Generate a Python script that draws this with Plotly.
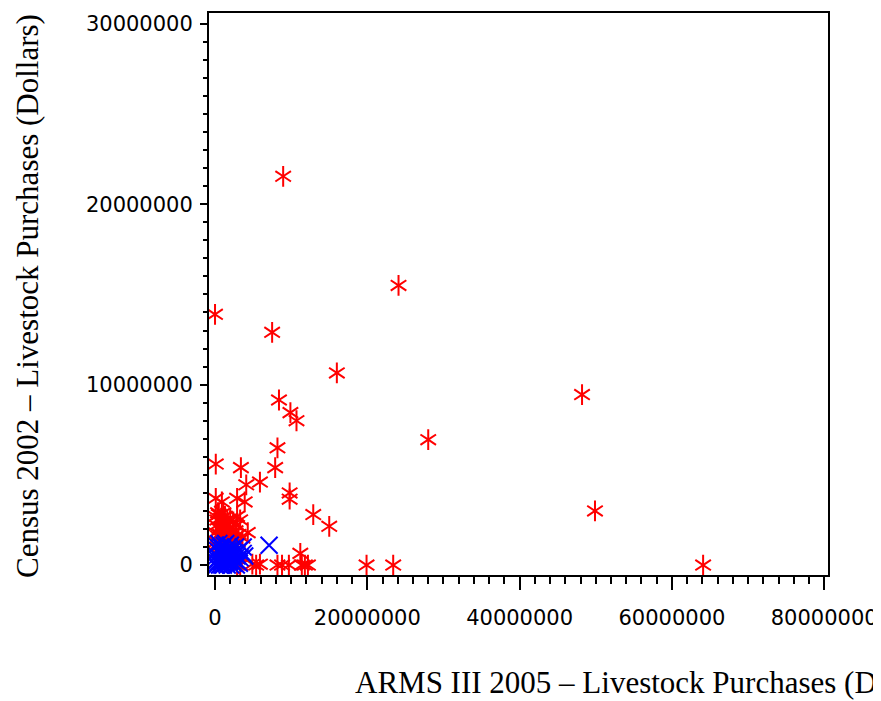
import plotly.graph_objects as go

# values, in millions of dollars
# red asterisks
red_x_m = [8.95, 24.1, 0.0, 7.5, 16.0, 48.2, 8.4, 9.9, 10.7, 28.0,
           8.2, 0.1, 3.4, 7.9, 5.9, 4.1, 9.8, 9.8, 0.1, 0.9,
           2.9, 3.9, 12.9, 15.0, 49.9, 11.2, 64.1, 19.9, 23.4, 2.9,
           3.3, 4.9, 5.4, 5.9, 8.2, 8.8, 9.7, 11.4, 11.8, 12.2,
           0.1, 0.3, 0.5, 0.8, 1.0, 1.3, 1.6, 2.0, 2.4, 2.8,
           3.3, 0.2, 0.6, 0.9, 1.2, 1.5, 1.9, 2.3, 2.7, 3.1,
           0.1, 0.4, 0.7, 1.1, 1.4, 1.8, 2.2, 2.6, 3.0, 3.6,
           4.3, 0.2, 0.5, 0.9, 1.3, 1.7, 2.1, 2.5, 0.3, 0.8,
           1.5, 0.1, 0.4, 1.1, 2.9]
red_y_m = [21.55, 15.5, 13.9, 12.9, 10.65, 9.45, 9.15, 8.45, 8.0, 6.95,
           6.5, 5.6, 5.4, 5.4, 4.6, 4.45, 4.0, 3.65, 3.7, 3.5,
           3.7, 3.5, 2.8, 2.15, 3.0, 0.65, 0.0, 0.0, 0.0, 0.0,
           0.0, 0.05, 0.0, 0.05, 0.0, 0.0, 0.0, 0.0, 0.0, 0.0,
           2.7, 2.5, 2.8, 2.6, 2.4, 2.7, 2.5, 2.6, 2.4, 2.2,
           2.5, 2.2, 2.0, 2.1, 1.9, 2.2, 2.0, 1.8, 1.9, 1.7,
           1.8, 1.6, 1.7, 1.5, 1.6, 1.5, 1.4, 1.5, 1.3, 1.5,
           1.8, 1.3, 1.2, 1.3, 1.1, 1.2, 1.0, 1.1, 1.0, 0.9,
           0.9, 0.7, 2.9, 2.9, 2.7]

# blue crosses
blue_x_m = [0.0, 0.1, 0.2, 0.3, 0.1, 0.4, 0.5, 0.6, 0.7, 0.8,
            0.9, 1.0, 1.1, 1.2, 1.3, 1.4, 1.5, 1.6, 1.7, 1.8,
            1.9, 2.0, 2.1, 2.2, 2.3, 2.4, 2.5, 2.6, 2.7, 2.8,
            2.9, 3.0, 3.1, 3.2, 3.3, 0.2, 0.5, 0.9, 1.2, 1.6,
            2.0, 0.3, 0.6, 1.0, 2.4, 3.7, 3.7, 3.9, 7.1]
blue_y_m = [0.0, 0.2, 0.5, 0.8, 1.1, 0.1, 0.4, 0.7, 1.0, 0.2,
            0.5, 0.9, 0.0, 0.3, 0.6, 1.2, 0.1, 0.4, 0.8, 1.0,
            0.2, 0.6, 0.0, 0.9, 0.4, 0.1, 0.7, 0.3, 1.0, 0.0,
            0.5, 0.2, 0.8, 0.1, 0.4, 0.0, 1.2, 0.0, 1.1, 0.0,
            1.1, 0.3, 0.0, 0.6, 0.5, 1.0, 0.65, 0.5, 1.1]

x_ticks = [0, 20000000, 40000000, 60000000, 80000000]
y_ticks = [0, 10000000, 20000000, 30000000]

x_title = "ARMS III 2005 \u2013 Livestock Purchases (Dollars)"
y_title = "Census 2002 \u2013 Livestock Purchases (Dollars)"

red_x = [v * 1e6 for v in red_x_m]
red_y = [v * 1e6 for v in red_y_m]
blue_x = [v * 1e6 for v in blue_x_m]
blue_y = [v * 1e6 for v in blue_y_m]

fig = go.Figure()
# six-armed asterisk = y-up + y-down drawn on the same points
for sym in ["y-up-open", "y-down-open"]:
    fig.add_trace(go.Scatter(
        x=red_x, y=red_y, mode="markers",
        marker=dict(symbol=sym, size=13, color="#ff0000", line=dict(width=2)),
        hoverinfo="x+y",
    ))
fig.add_trace(go.Scatter(
    x=blue_x, y=blue_y, mode="markers",
    marker=dict(symbol="x-thin-open", size=17, color="#0000ff", line=dict(width=2)),
    hoverinfo="x+y",
))

tick_font = dict(family="DejaVu Sans", size=21, color="black")
title_font = dict(family="Liberation Serif", size=31, color="black")

# page body has an 8px margin, so the figure is 8px smaller than the window
fig.update_layout(
    width=873,
    height=693,
    margin=dict(l=201, r=52, t=3, b=126),
    paper_bgcolor="white",
    plot_bgcolor="white",
    showlegend=False,
    xaxis=dict(
        range=[-790000, 80500000],
        tickvals=x_ticks,
        tickformat="d",
        ticks="outside", ticklen=13, tickwidth=2, tickcolor="black",
        minor=dict(tick0=0, dtick=2000000, ticks="outside", ticklen=7,
                   tickwidth=2, tickcolor="black"),
        showline=True, linewidth=2, linecolor="black", mirror=True,
        showgrid=False, zeroline=False,
        tickfont=tick_font,
        ticklabelstandoff=10,
        ticklabeloverflow="allow",
    ),
    yaxis=dict(
        range=[-550000, 30600000],
        tickvals=y_ticks,
        tickformat="d",
        ticks="outside", ticklen=7, tickwidth=2, tickcolor="black",
        minor=dict(tick0=0, dtick=1000000, ticks="outside", ticklen=4,
                   tickwidth=2, tickcolor="black"),
        showline=True, linewidth=2, linecolor="black", mirror=True,
        showgrid=False, zeroline=False,
        tickfont=tick_font,
        ticklabelstandoff=3,
    ),
    annotations=[
        dict(text=x_title, xref="paper", yref="paper",
             x=0.232, y=-0.191, xanchor="left", yanchor="middle",
             showarrow=False, font=title_font),
        dict(text=y_title, xref="paper", yref="paper",
             x=-0.2935, y=0.497, xanchor="center", yanchor="middle",
             textangle=-90, showarrow=False, font=title_font),
    ],
)

fig.write_html("out.html")
